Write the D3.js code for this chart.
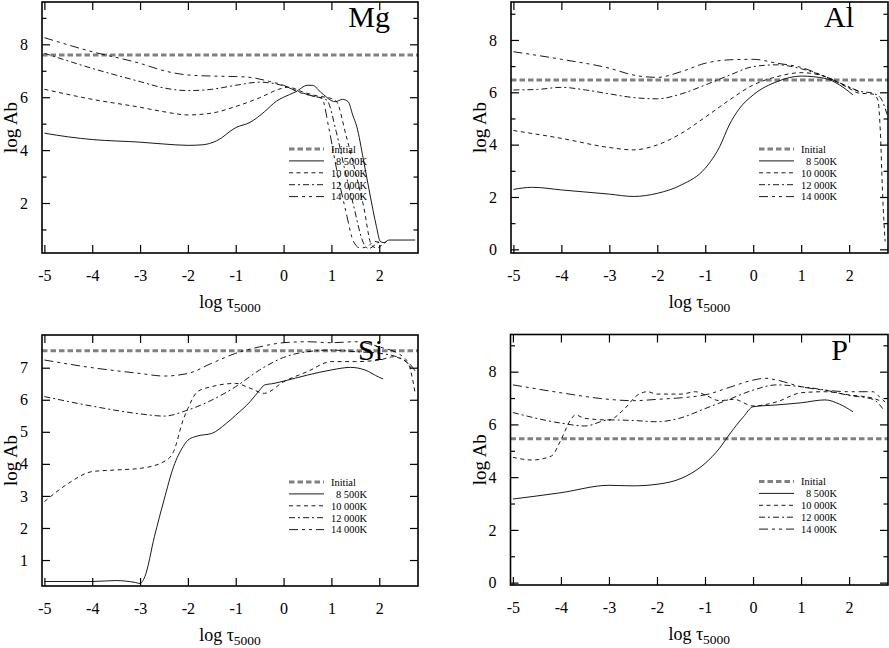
<!DOCTYPE html>
<html>
<head>
<meta charset="utf-8">
<script src="https://cdn.jsdelivr.net/npm/d3@7"></script>
<style>
  body { margin: 0; background: #fff; }
  svg { display: block; font-family: "Liberation Serif", "Times New Roman", serif; }
  svg text { font-family: "Liberation Serif", "Times New Roman", serif; }
</style>
</head>
<body>
<svg id="chart" width="889" height="648"></svg>
<script>
// ---- data: [log tau5000, log Ab] ----
const xTicks = [-5, -4, -3, -2, -1, 0, 1, 2];
const seriesNames = ['8 500K', '10 000K', '12 000K', '14 000K'];
const initialName = 'Initial';

const mgInitial = 7.6;
const mg8500 = [[-5,4.64],[-4.5,4.5],[-4,4.4],[-3,4.3],[-2.5,4.23],[-2,4.18],[-1.7,4.2],[-1.4,4.35],[-1,4.85],[-0.7,5.05],[-0.4,5.45],[-0.15,5.85],[0,6.0],[0.25,6.2],[0.5,6.45],[0.6,6.45],[0.8,6.15],[1.08,5.83],[1.23,5.92],[1.35,5.83],[1.45,5.3],[1.53,4.89],[1.67,3.63],[1.8,2.38],[1.94,1.12],[2.02,0.55],[2.1,0.5],[2.2,0.6],[2.75,0.6]];
const mg10000 = [[-5,6.3],[-4,5.92],[-3,5.62],[-2.5,5.45],[-2,5.33],[-1.5,5.4],[-1,5.65],[-0.5,5.98],[-0.1,6.3],[0.1,6.38],[0.4,6.2],[0.7,6.05],[1.0,5.95],[1.11,5.83],[1.3,4.6],[1.49,3.26],[1.67,1.9],[1.84,0.4],[1.95,0.3],[2.05,0.4],[2.15,0.55]];
const mg12000 = [[-5,7.66],[-4,7.09],[-3,6.59],[-2.5,6.35],[-2,6.25],[-1.5,6.3],[-1,6.45],[-0.5,6.57],[0,6.43],[0.3,6.22],[0.6,6.05],[0.9,5.9],[1.1,4.7],[1.28,3.26],[1.45,2.0],[1.67,0.49],[1.78,0.28],[1.9,0.4],[2.0,0.55]];
const mg14000 = [[-5,8.25],[-4,7.72],[-3,7.28],[-2.5,7.0],[-2,6.84],[-1.5,6.8],[-1,6.78],[-0.7,6.75],[-0.3,6.6],[0,6.45],[0.3,6.2],[0.6,6.05],[0.8,5.96],[0.95,4.8],[1.11,3.26],[1.3,1.7],[1.46,0.55],[1.6,0.3],[1.75,0.35],[1.9,0.55],[2.0,0.5]];

const alInitial = 6.47;
const al8500 = [[-5,2.29],[-4.6,2.37],[-4,2.27],[-3,2.11],[-2.5,2.02],[-2,2.14],[-1.5,2.46],[-1,3.1],[-0.7,3.92],[-0.5,4.75],[-0.3,5.35],[0,5.9],[0.5,6.41],[1,6.62],[1.5,6.53],[1.8,6.28],[2.08,5.9]];
const al10000 = [[-5,4.54],[-4,4.24],[-3,3.89],[-2.5,3.8],[-2,3.99],[-1.5,4.43],[-1,5.05],[-0.5,5.7],[0,6.28],[0.5,6.6],[1,6.75],[1.5,6.6],[2,6.15],[2.2,5.97],[2.5,5.93],[2.6,5.7],[2.65,4.5],[2.7,2.0],[2.75,0.3]];
const al12000 = [[-5,6.09],[-4.5,6.11],[-4,6.19],[-3.5,6.09],[-3,5.94],[-2.5,5.8],[-2,5.75],[-1.5,5.94],[-1,6.28],[-0.5,6.65],[0,6.98],[0.5,7.05],[1,6.9],[1.5,6.6],[2,6.2],[2.2,6.05],[2.5,5.96],[2.65,5.8],[2.8,5.1]];
const al14000 = [[-5,7.55],[-4,7.26],[-3,6.92],[-2.5,6.66],[-2,6.57],[-1.5,6.79],[-1,7.11],[-0.5,7.24],[0,7.26],[0.5,7.11],[1,6.95],[1.5,6.6],[2,6.19],[2.2,6.03]];

const siInitial = 7.53;
const si8500 = [[-5,0.33],[-4,0.33],[-3.5,0.36],[-3.1,0.3],[-3,0.27],[-2.9,0.48],[-2.7,1.73],[-2.5,2.87],[-2.3,3.91],[-2.1,4.54],[-2,4.74],[-1.8,4.87],[-1.5,4.95],[-1.2,5.26],[-1,5.52],[-0.7,5.94],[-0.5,6.3],[-0.4,6.46],[-0.2,6.51],[0,6.58],[0.5,6.77],[1,6.93],[1.4,7.01],[1.7,6.93],[2,6.7],[2.08,6.65]];
const si10000 = [[-5,2.82],[-4.5,3.39],[-4,3.76],[-3.5,3.81],[-3,3.86],[-2.5,4.07],[-2.3,4.38],[-2.1,5.37],[-2,5.73],[-1.8,6.25],[-1.5,6.41],[-1,6.51],[-0.7,6.36],[-0.4,6.2],[0,6.56],[0.5,6.88],[1,7.19],[1.5,7.19],[2,7.24],[2.3,7.34],[2.5,7.24],[2.6,7.14],[2.7,6.62],[2.75,6.2]];
const si12000 = [[-5,6.1],[-4,5.8],[-3,5.56],[-2.5,5.49],[-2,5.68],[-1.5,5.99],[-1,6.41],[-0.5,6.93],[0,7.32],[0.5,7.5],[1,7.55],[1.5,7.5],[2,7.45],[2.5,7.26],[2.7,6.93]];
const si14000 = [[-5,7.24],[-4,7.0],[-3,6.82],[-2.5,6.74],[-2,6.82],[-1.5,7.14],[-1,7.45],[-0.5,7.65],[0,7.78],[0.5,7.81],[1,7.78],[1.5,7.81],[2,7.65],[2.5,7.34],[2.65,7.1],[2.75,6.9]];

const pInitial = 5.46;
const p8500 = [[-5,3.17],[-4,3.41],[-3,3.69],[-2.5,3.67],[-2,3.73],[-1.5,3.95],[-1,4.52],[-0.7,5.09],[-0.5,5.6],[-0.2,6.29],[0,6.67],[0.5,6.74],[1,6.82],[1.5,6.93],[1.8,6.77],[2.08,6.48]];
const p10000 = [[-5,4.75],[-4.6,4.65],[-4.2,4.8],[-4,5.41],[-3.8,6.17],[-3.7,6.36],[-3.5,6.23],[-3,6.17],[-2.7,6.55],[-2.4,7.12],[-2.2,7.24],[-2,7.15],[-1.5,7.15],[-1.2,7.24],[-1,7.12],[-0.7,6.9],[-0.4,6.95],[0,6.7],[0.5,6.86],[1,7.2],[1.5,7.24],[2,7.12],[2.5,6.99],[2.7,6.86]];
const p12000 = [[-5,6.45],[-4,6.05],[-3.5,5.94],[-3,6.17],[-2.5,6.15],[-2,6.1],[-1.5,6.25],[-1,6.6],[-0.5,6.95],[0,7.3],[0.5,7.5],[1,7.43],[1.5,7.3],[2,7.1],[2.5,6.95],[2.7,6.6]];
const p14000 = [[-5,7.5],[-4,7.2],[-3,6.95],[-2.5,6.9],[-2,6.95],[-1,7.12],[-0.5,7.4],[0,7.68],[0.25,7.75],[0.5,7.68],[1,7.43],[1.5,7.3],[2,7.24],[2.5,7.24],[2.6,7.1],[2.75,6.85]];

const yTicksEven = [0, 2, 4, 6, 8];
const yMinorOdd = [1, 3, 5, 7, 9];
const yTicksSi = [1, 2, 3, 4, 5, 6, 7];

// ---- layout ----
const panels = [
  { label: 'Mg', initial: mgInitial, series: [mg8500, mg10000, mg12000, mg14000],
    box: { left: 42, right: 418, top: 2, bottom: 253 }, yDomain: [0.11, 9.6],
    yMajor: yTicksEven.filter(v => v > 0), yMinor: yMinorOdd, labelRight: 28 },
  { label: 'Al', initial: alInitial, series: [al8500, al10000, al12000, al14000],
    box: { left: 511, right: 888, top: 2, bottom: 253 }, yDomain: [-0.14, 9.45],
    yMajor: yTicksEven, yMinor: yMinorOdd, labelRight: 34 },
  { label: 'Si', initial: siInitial, series: [si8500, si10000, si12000, si14000],
    box: { left: 42, right: 418, top: 335, bottom: 586 }, yDomain: [0.19, 8.02],
    yMajor: yTicksSi, yMinor: [], labelRight: 35 },
  { label: 'P', initial: pInitial, series: [p8500, p10000, p12000, p14000],
    box: { left: 510.5, right: 888, top: 334.5, bottom: 585 }, yDomain: [-0.09, 9.41],
    yMajor: yTicksEven, yMinor: yMinorOdd, labelRight: 40 },
];

const dashes = [null, '4,3.5', '6,3,2,3', '9,4,3,4,3,4'];
const initialStyle = { stroke: '#808080', width: 3, dash: '5.5,3' };
const majorLen = 8, minorLen = 4.5;
const serif = '"Liberation Serif", "Times New Roman", serif';

const svg = d3.select('#chart');

panels.forEach((p, i) => {
  const b = p.box;
  const x = d3.scaleLinear().domain([-5.05, 2.81]).range([b.left, b.right]);
  const y = d3.scaleLinear().domain(p.yDomain).range([b.bottom, b.top]);
  const g = svg.append('g');

  const clipId = 'clip' + i;
  svg.append('clipPath').attr('id', clipId)
    .append('rect').attr('x', b.left).attr('y', b.top)
    .attr('width', b.right - b.left).attr('height', b.bottom - b.top);

  const plot = g.append('g').attr('clip-path', `url(#${clipId})`);

  // initial abundance
  plot.append('line')
    .attr('x1', b.left).attr('x2', b.right)
    .attr('y1', y(p.initial)).attr('y2', y(p.initial))
    .attr('stroke', initialStyle.stroke)
    .attr('stroke-width', initialStyle.width)
    .attr('stroke-dasharray', initialStyle.dash);

  const line = d3.line()
    .x(d => x(d[0])).y(d => y(d[1]))
    .curve(d3.curveMonotoneX);

  plot.selectAll('path.series')
    .data(p.series)
    .join('path')
      .attr('class', 'series')
      .attr('d', line)
      .attr('fill', 'none')
      .attr('stroke', '#000')
      .attr('stroke-width', 0.9)
      .attr('stroke-dasharray', (d, k) => dashes[k]);

  // axes: ticks inward on all four sides
  const axisStyle = sel => {
    sel.attr('font-family', serif).attr('font-size', 16);
    sel.select('.domain').remove();
    sel.selectAll('.tick line').attr('stroke', '#000').attr('stroke-width', 1.2);
    sel.selectAll('.tick text').attr('fill', '#000')
      .style('font-family', serif).style('font-size', '16px');
  };

  g.append('g').attr('transform', `translate(0,${b.bottom})`)
    .call(d3.axisBottom(x).tickValues(xTicks).tickSizeInner(-majorLen).tickSizeOuter(0)
      .tickPadding(majorLen + 9).tickFormat(d => String(d)))
    .call(axisStyle);
  g.append('g').attr('transform', `translate(0,${b.top})`)
    .call(d3.axisTop(x).tickValues(xTicks).tickSizeInner(-majorLen).tickSizeOuter(0).tickFormat(''))
    .call(axisStyle);

  g.append('g').attr('transform', `translate(${b.left},0)`)
    .call(d3.axisLeft(y).tickValues(p.yMajor).tickSizeInner(-majorLen).tickSizeOuter(0)
      .tickPadding(majorLen + 6).tickFormat(d => String(d)))
    .call(axisStyle);
  g.append('g').attr('transform', `translate(${b.left},0)`)
    .call(d3.axisLeft(y).tickValues(p.yMinor).tickSizeInner(-minorLen).tickSizeOuter(0).tickFormat(''))
    .call(axisStyle);
  g.append('g').attr('transform', `translate(${b.right},0)`)
    .call(d3.axisRight(y).tickValues(p.yMajor).tickSizeInner(-majorLen).tickSizeOuter(0).tickFormat(''))
    .call(axisStyle);
  g.append('g').attr('transform', `translate(${b.right},0)`)
    .call(d3.axisRight(y).tickValues(p.yMinor).tickSizeInner(-minorLen).tickSizeOuter(0).tickFormat(''))
    .call(axisStyle);

  // frame
  g.append('rect')
    .attr('x', b.left).attr('y', b.top)
    .attr('width', b.right - b.left).attr('height', b.bottom - b.top)
    .attr('fill', 'none').attr('stroke', '#000').attr('stroke-width', 1.6);

  // element label
  g.append('text')
    .attr('x', b.right - p.labelRight).attr('y', b.top + 25)
    .attr('text-anchor', 'end')
    .attr('font-size', '30px')
    .text(p.label);

  // axis titles
  const xt = g.append('text')
    .attr('x', (b.left + b.right) / 2).attr('y', b.bottom + 55)
    .attr('text-anchor', 'middle')
    .attr('font-size', '18px');
  xt.append('tspan').text('log \u03c4');
  xt.append('tspan').attr('font-size', '13.5px').attr('dy', 4).text('5000');

  g.append('text')
    .attr('transform', `translate(${b.left - 25},${(b.top + b.bottom) / 2}) rotate(-90)`)
    .attr('text-anchor', 'middle')
    .attr('font-size', '19px')
    .text('log Ab');

  // legend
  const lx = b.right - 129, ly = b.top + 147, rowH = 11.9;
  const rows = [{ name: initialName, initial: true }]
    .concat(seriesNames.map((n, k) => ({ name: n, k })));
  const leg = g.append('g').attr('transform', `translate(${lx},${ly})`);
  const row = leg.selectAll('g').data(rows).join('g')
    .attr('transform', (d, r) => `translate(0,${r * rowH})`);
  row.append('line')
    .attr('x1', 0).attr('x2', 35).attr('y1', 0).attr('y2', 0)
    .attr('stroke', d => d.initial ? initialStyle.stroke : '#000')
    .attr('stroke-width', d => d.initial ? initialStyle.width : 0.9)
    .attr('stroke-dasharray', d => d.initial ? initialStyle.dash : dashes[d.k]);
  row.append('text')
    .attr('x', d => d.k === 0 ? 47 : 42)
    .attr('y', 3.8)
    .attr('font-size', '10.4px')
    .text(d => d.name);
});
</script>
</body>
</html>
